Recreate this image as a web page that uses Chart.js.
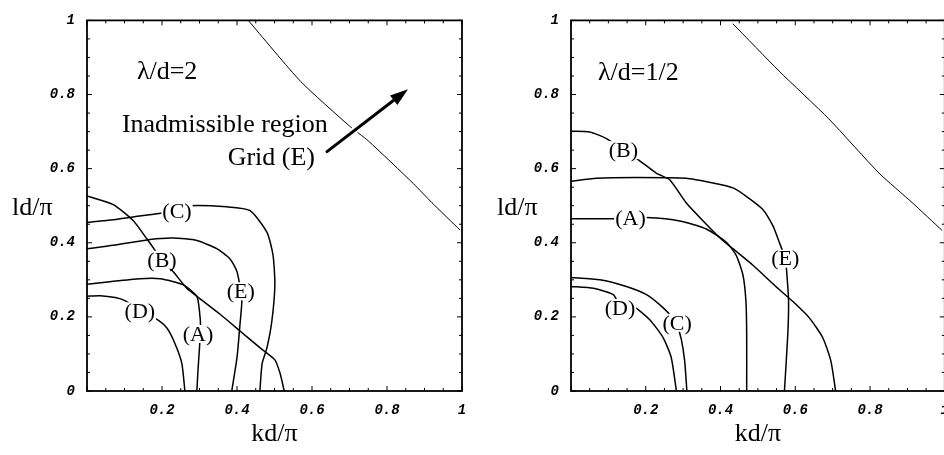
<!DOCTYPE html>
<html>
<head>
<meta charset="utf-8">
<script src="https://cdn.jsdelivr.net/npm/chart.js@4.4.1/dist/chart.umd.min.js"></script>
<style>
    html, body { margin: 0; padding: 0; background: #fff; overflow: hidden; width: 944px; height: 455px; }
    .panel { position: absolute; top: 0; width: 480px; height: 455px; }
    #left { left: 0; }
    #right { left: 480px; }
</style>
</head>
<body>
<div class="panel" id="left"><canvas id="chartLeft" width="480" height="455"></canvas></div>
<div class="panel" id="right"><canvas id="chartRight" width="480" height="455"></canvas></div>
<script>
// curve points, as [kd/pi, ld/pi]
const leftBoundary = [[0.43, 1.0], [0.57, 0.835], [0.70, 0.715], [0.75, 0.675], [0.87, 0.56], [0.92, 0.508], [0.995, 0.434]];
const leftA = [[0, 0.288], [0.061, 0.295], [0.141, 0.303], [0.195, 0.303], [0.256, 0.287], [0.293, 0.255], [0.30, 0.215], [0.303, 0.17], [0.30, 0.117], [0.296, 0.056], [0.293, 0]];
const leftB = [[0, 0.526], [0.07, 0.503], [0.123, 0.46], [0.16, 0.41], [0.181, 0.38], [0.2, 0.35], [0.23, 0.322], [0.266, 0.277], [0.30, 0.25], [0.355, 0.207], [0.408, 0.162], [0.461, 0.117], [0.501, 0.084], [0.515, 0.047], [0.526, 0]];
const leftC = [[0, 0.455], [0.07, 0.462], [0.14, 0.472], [0.203, 0.481], [0.275, 0.50], [0.373, 0.497], [0.435, 0.487], [0.48, 0.428], [0.496, 0.367], [0.501, 0.287], [0.493, 0.189], [0.48, 0.117], [0.467, 0.074], [0.461, 0]];
const leftD = [[0, 0.256], [0.035, 0.257], [0.075, 0.252], [0.101, 0.244], [0.141, 0.218], [0.181, 0.197], [0.213, 0.17], [0.235, 0.127], [0.253, 0.074], [0.261, 0]];
const leftE = [[0, 0.384], [0.07, 0.393], [0.168, 0.409], [0.23, 0.413], [0.293, 0.406], [0.346, 0.384], [0.381, 0.357], [0.40, 0.322], [0.41, 0.27], [0.413, 0.242], [0.408, 0.18], [0.40, 0.09], [0.386, 0]];

const rightBoundary = [[0.433, 0.991], [0.557, 0.863], [0.69, 0.734], [0.824, 0.588], [0.913, 0.508], [0.993, 0.433]];
const rightA = [[0, 0.465], [0.077, 0.465], [0.159, 0.465], [0.202, 0.468], [0.291, 0.459], [0.362, 0.437], [0.415, 0.402], [0.442, 0.366], [0.46, 0.313], [0.468, 0.242], [0.47, 0.153], [0.47, 0]];
const rightB = [[0, 0.701], [0.05, 0.699], [0.095, 0.681], [0.14, 0.65], [0.175, 0.628], [0.228, 0.588], [0.264, 0.57], [0.308, 0.508], [0.362, 0.45], [0.406, 0.406], [0.433, 0.384], [0.486, 0.34], [0.548, 0.282], [0.593, 0.242], [0.637, 0.198], [0.673, 0.145], [0.695, 0.082], [0.708, 0]];
const rightC = [[0, 0.306], [0.077, 0.30], [0.148, 0.282], [0.202, 0.26], [0.237, 0.233], [0.265, 0.205], [0.284, 0.175], [0.295, 0.14], [0.304, 0.082], [0.31, 0]];
const rightD = [[0, 0.282], [0.06, 0.277], [0.113, 0.26], [0.131, 0.232], [0.166, 0.229], [0.21, 0.193], [0.246, 0.145], [0.268, 0.091], [0.282, 0]];
const rightE = [[0, 0.566], [0.068, 0.574], [0.175, 0.576], [0.308, 0.574], [0.38, 0.561], [0.433, 0.548], [0.468, 0.526], [0.513, 0.49], [0.54, 0.446], [0.557, 0.402], [0.573, 0.357], [0.577, 0.322], [0.582, 0.242], [0.58, 0.153], [0.571, 0]];

// curve labels [text, x, y]
const leftLabels = [['(C)', 0.24, 0.484], ['(B)', 0.2, 0.354], ['(E)', 0.41, 0.269], ['(D)', 0.141, 0.215], ['(A)', 0.296, 0.154]];
const rightLabels = [['(B)', 0.14, 0.65], ['(A)', 0.159, 0.465], ['(E)', 0.573, 0.357], ['(D)', 0.131, 0.224], ['(C)', 0.284, 0.184]];

const axisTicks = [0, 0.2, 0.4, 0.6, 0.8, 1];
const xTitle = 'kd/\u03c0';
const yTitle = 'ld/\u03c0';

const serif = "'Liberation Serif', 'Times New Roman', serif";

function toPoints(arr) {
    return arr.map(p => ({ x: p[0], y: p[1] }));
}

function curve(arr, width) {
    return {
        data: toPoints(arr),
        showLine: true,
        borderColor: '#000',
        borderWidth: width,
        pointRadius: 0,
        tension: 0.2,
        fill: false
    };
}

const figureDecor = {
    id: 'figureDecor',
    afterDatasetsDraw(chart, args, opts) {
        const ctx = chart.ctx;
        const xs = chart.scales.x, ys = chart.scales.y;
        const area = chart.chartArea;
        ctx.save();

        // frame with small inward ticks
        ctx.strokeStyle = '#000';
        ctx.lineWidth = 1.8;
        ctx.strokeRect(area.left, area.top, area.right - area.left, area.bottom - area.top);
        ctx.lineWidth = 1;
        for (let i = 0; i <= 20; i++) {
            const v = i / 20;
            const len = (i % 4 === 0) ? 5 : 3;
            const px = xs.getPixelForValue(v), py = ys.getPixelForValue(v);
            ctx.beginPath();
            ctx.moveTo(px, area.bottom); ctx.lineTo(px, area.bottom - len);
            ctx.moveTo(px, area.top); ctx.lineTo(px, area.top + len);
            ctx.moveTo(area.left, py); ctx.lineTo(area.left + len, py);
            ctx.moveTo(area.right, py); ctx.lineTo(area.right - len, py);
            ctx.stroke();
        }

        // curve labels on white patches
        ctx.font = '22px ' + serif;
        ctx.textAlign = 'center';
        ctx.textBaseline = 'middle';
        opts.labels.forEach(l => {
            const px = xs.getPixelForValue(l[1]), py = ys.getPixelForValue(l[2]);
            const w = ctx.measureText(l[0]).width;
            ctx.fillStyle = '#fff';
            ctx.fillRect(px - w / 2 - 1, py - 9, w + 2, 18);
            ctx.fillStyle = '#000';
            ctx.fillText(l[0], px, py + 1);
        });

        // free texts
        ctx.font = '26px ' + serif;
        ctx.textBaseline = 'alphabetic';
        opts.texts.forEach(t => {
            ctx.textAlign = t[3];
            ctx.fillText(t[0], xs.getPixelForValue(t[1]), ys.getPixelForValue(t[2]));
        });

        // arrow
        if (opts.arrow) {
            const x1 = xs.getPixelForValue(opts.arrow[0]), y1 = ys.getPixelForValue(opts.arrow[1]);
            const x2 = xs.getPixelForValue(opts.arrow[2]), y2 = ys.getPixelForValue(opts.arrow[3]);
            const ang = Math.atan2(y2 - y1, x2 - x1);
            const hx = x2 - 18 * Math.cos(ang), hy = y2 - 18 * Math.sin(ang);
            ctx.lineCap = 'round';
            ctx.strokeStyle = '#fff';
            ctx.lineWidth = 7;
            ctx.beginPath(); ctx.moveTo(x1, y1); ctx.lineTo(hx, hy); ctx.stroke();
            ctx.strokeStyle = '#000';
            ctx.lineWidth = 3;
            ctx.beginPath(); ctx.moveTo(x1, y1); ctx.lineTo(hx, hy); ctx.stroke();
            ctx.beginPath();
            ctx.moveTo(x2, y2);
            ctx.lineTo(hx + 6 * Math.sin(ang), hy - 6 * Math.cos(ang));
            ctx.lineTo(hx - 6 * Math.sin(ang), hy + 6 * Math.cos(ang));
            ctx.closePath();
            ctx.fill();
        }

        // axis titles, horizontal like the original
        ctx.font = '26px ' + serif;
        ctx.textAlign = 'center';
        ctx.fillText(xTitle, (area.left + area.right) / 2, area.bottom + 50);
        ctx.textAlign = 'left';
        ctx.fillText(yTitle, opts.yTitleX, (area.top + area.bottom) / 2 + 9);
        ctx.restore();
    }
};

function makeChart(id, curves, opts, yWidth, padRight) {
    const tickFont = { family: "'Liberation Mono', 'Courier New', monospace", size: 14, style: 'italic', weight: 'bold' };
    return new Chart(document.getElementById(id), {
        type: 'scatter',
        data: { datasets: curves },
        options: {
            responsive: false,
            animation: false,
            layout: { padding: { top: 15, right: padRight, left: 0, bottom: 0 } },
            plugins: {
                legend: { display: false },
                tooltip: { enabled: false },
                figureDecor: opts
            },
            scales: {
                x: {
                    type: 'linear', min: 0, max: 1,
                    afterBuildTicks: s => { s.ticks = axisTicks.map(v => ({ value: v })); },
                    afterFit: s => { s.height = 64; },
                    grid: { display: false, drawTicks: false },
                    border: { display: false },
                    ticks: {
                        padding: 11, color: '#000', font: tickFont, maxRotation: 0,
                        callback: v => v === 0 ? '' : String(Number(v.toFixed(1)))
                    }
                },
                y: {
                    type: 'linear', min: 0, max: 1,
                    afterBuildTicks: s => { s.ticks = axisTicks.map(v => ({ value: v })); },
                    afterFit: s => { s.width = yWidth; },
                    grid: { display: false, drawTicks: false },
                    border: { display: false },
                    ticks: {
                        padding: 12, color: '#000', font: tickFont,
                        callback: v => String(Number(v.toFixed(1)))
                    }
                }
            }
        },
        plugins: [figureDecor]
    });
}

makeChart('chartLeft',
    [curve(leftBoundary, 1), curve(leftA, 1.5), curve(leftB, 1.5), curve(leftC, 1.5), curve(leftD, 1.5), curve(leftE, 1.5)],
    {
        labels: leftLabels,
        texts: [['\u03bb/d=2', 0.133, 0.843, 'left'], ['Inadmissible region', 0.093, 0.70, 'left'], ['Grid (E)', 0.608, 0.609, 'right']],
        arrow: [0.64, 0.646, 0.856, 0.814],
        yTitleX: 12
    }, 87, 18);

makeChart('chartRight',
    [curve(rightBoundary, 1), curve(rightA, 1.5), curve(rightB, 1.5), curve(rightC, 1.5), curve(rightD, 1.5), curve(rightE, 1.5)],
    {
        labels: rightLabels,
        texts: [['\u03bb/d=1/2', 0.072, 0.84, 'left']],
        arrow: null,
        yTitleX: 17
    }, 91, 14);
</script>
</body>
</html>
